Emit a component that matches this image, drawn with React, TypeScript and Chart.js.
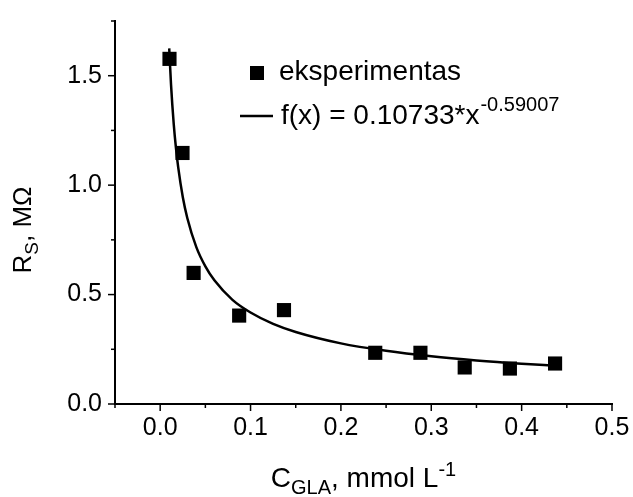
import React, { useEffect, useRef } from "react";
import { Chart, registerables } from "chart.js";

Chart.register(...registerables);

// Experimental points (C_GLA, mmol/L ; R_s, MΩ)
const expX = [0.0103, 0.0247, 0.037, 0.0874, 0.137, 0.238, 0.288, 0.337, 0.387, 0.437];
const expY = [1.577, 1.147, 0.599, 0.404, 0.429, 0.234, 0.234, 0.167, 0.162, 0.185];

// Fitted curve f(x) = 0.10733*x^-0.59007, sampled values
const fitX = [0.01, 0.012, 0.015, 0.0175, 0.02, 0.025, 0.03, 0.04, 0.05, 0.06, 0.08, 0.1, 0.125, 0.15, 0.2, 0.25, 0.3, 0.35, 0.4, 0.437];
const fitY = [1.625, 1.459, 1.279, 1.168, 1.08, 0.946, 0.85, 0.717, 0.629, 0.565, 0.476, 0.418, 0.366, 0.329, 0.277, 0.243, 0.218, 0.199, 0.184, 0.175];

const xTicks = ["0.0", "0.1", "0.2", "0.3", "0.4", "0.5"];
const yTicks = ["0.0", "0.5", "1.0", "1.5"];

const legendExp = "eksperimentas";
const legendFit = "f(x) = 0.10733*x";
const legendFitExp = "-0.59007";

const FONT = "'Liberation Sans', Arial, sans-serif";

export default function App() {
  const ref = useRef<HTMLCanvasElement | null>(null);

  useEffect(() => {
    document.body.style.margin = "0";
    const canvas = ref.current;
    if (!canvas) return;

    const overlay = {
      id: "overlay",
      afterDraw(chart: any) {
        const ctx = chart.ctx;
        const xs = chart.scales.x;
        const ys = chart.scales.y;
        const area = chart.chartArea;
        ctx.save();
        ctx.strokeStyle = "#000";
        ctx.lineWidth = 1.5;
        // x ticks
        xs.ticks.forEach((t: any) => {
          const v = t.value;
          const px = xs.getPixelForValue(v);
          const major = Math.abs(Math.round(v * 100) % 10) === 0;
          ctx.beginPath();
          ctx.moveTo(px, area.bottom);
          ctx.lineTo(px, area.bottom + (major ? 7 : 4));
          ctx.stroke();
        });
        ys.ticks.forEach((t: any) => {
          const v = t.value;
          const py = ys.getPixelForValue(v);
          const major = Math.abs(Math.round(v * 100) % 50) === 0;
          ctx.beginPath();
          ctx.moveTo(area.left, py);
          ctx.lineTo(area.left - (major ? 7 : 4), py);
          ctx.stroke();
        });

        ctx.fillStyle = "#000";
        // legend
        ctx.fillRect(250, 66, 14, 14);
        ctx.font = `28px ${FONT}`;
        ctx.textBaseline = "alphabetic";
        ctx.textAlign = "left";
        ctx.fillText(legendExp, 279, 80);
        ctx.lineWidth = 2.5;
        ctx.beginPath();
        ctx.moveTo(240, 116);
        ctx.lineTo(273, 116);
        ctx.stroke();
        ctx.fillText(legendFit, 281, 124);
        const w1 = ctx.measureText(legendFit).width;
        ctx.font = `20px ${FONT}`;
        ctx.fillText(legendFitExp, 281 + w1 + 1, 111);

        // x title
        const parts: [string, number, number][] = [
          ["C", 28, 0],
          ["GLA", 20, 7],
          [", mmol L", 28, 0],
          ["-1", 20, -11],
        ];
        let total = 0;
        parts.forEach(([s, f]) => {
          ctx.font = `${f}px ${FONT}`;
          total += ctx.measureText(s).width;
        });
        let cx = (area.left + area.right) / 2 - total / 2;
        parts.forEach(([s, f, dy]) => {
          ctx.font = `${f}px ${FONT}`;
          ctx.fillText(s, cx, 487 + dy);
          cx += ctx.measureText(s).width;
        });

        // y title
        const yparts: [string, number, number][] = [
          ["R", 26, 0],
          ["S", 19, 7],
          [", M\u03A9", 26, 0],
        ];
        ctx.translate(31, 230);
        ctx.rotate(-Math.PI / 2);
        let ytot = 0;
        yparts.forEach(([s, f]) => {
          ctx.font = `${f}px ${FONT}`;
          ytot += ctx.measureText(s).width;
        });
        let lx = -ytot / 2;
        yparts.forEach(([s, f, dy]) => {
          ctx.font = `${f}px ${FONT}`;
          ctx.fillText(s, lx, dy);
          lx += ctx.measureText(s).width;
        });
        ctx.restore();
      },
    };

    const chart = new Chart(canvas, {
      type: "scatter",
      data: {
        datasets: [
          {
            type: "line",
            label: "fit",
            data: fitX.map((x, i) => ({ x, y: fitY[i] })),
            borderColor: "#000",
            borderWidth: 2.5,
            pointRadius: 0,
            fill: false,
            cubicInterpolationMode: "monotone",
          },
          {
            label: legendExp,
            data: expX.map((x, i) => ({ x, y: expY[i] })),
            pointStyle: "rect",
            pointRadius: 10,
            backgroundColor: "#000",
            borderColor: "#000",
            borderWidth: 0,
          },
        ],
      } as any,
      plugins: [overlay],
      options: {
        animation: false,
        responsive: false,
        layout: { padding: { left: 0, right: 21, top: 15, bottom: 0 } },
        plugins: { legend: { display: false }, tooltip: { enabled: false } },
        scales: {
          x: {
            type: "linear",
            min: -0.05,
            max: 0.5,
            afterFit: (s: any) => {
              s.height = 93;
            },
            border: { display: true, color: "#000", width: 2 },
            grid: { display: true, drawOnChartArea: false, color: "rgba(0,0,0,0)", tickLength: 7 },
            ticks: {
              stepSize: 0.05,
              padding: 2,
              color: "#000",
              font: { family: FONT, size: 25 },
              maxRotation: 0,
              autoSkip: false,
              callback: (v: any) => {
                const n = Math.round(Number(v) * 100);
                if (n % 10 !== 0 || n < 0) return "";
                return xTicks[n / 10] ?? "";
              },
            },
          },
          y: {
            type: "linear",
            min: 0,
            max: 1.75,
            afterFit: (s: any) => {
              s.width = 115;
            },
            border: { display: true, color: "#000", width: 2 },
            grid: { display: true, drawOnChartArea: false, color: "rgba(0,0,0,0)", tickLength: 7 },
            ticks: {
              stepSize: 0.25,
              padding: 6,
              color: "#000",
              font: { family: FONT, size: 25 },
              autoSkip: false,
              callback: (v: any) => {
                const n = Math.round(Number(v) * 100);
                if (n % 50 !== 0) return "";
                return yTicks[n / 50] ?? "";
              },
            },
          },
        },
      },
    });
    return () => chart.destroy();
  }, []);

  return (
    <div style={{ position: "absolute", left: 0, top: 0, width: 633, height: 497, background: "#fff" }}>
      <canvas ref={ref} width={633} height={497} style={{ width: 633, height: 497 }} />
    </div>
  );
}
